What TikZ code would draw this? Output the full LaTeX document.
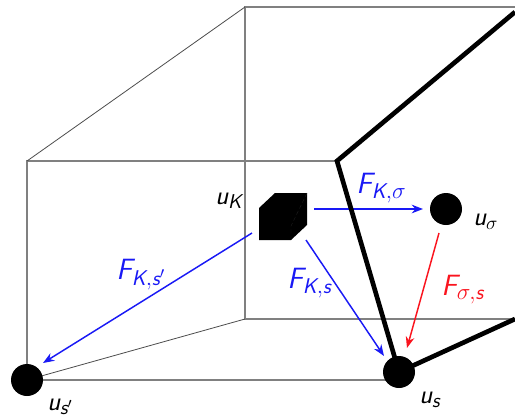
\documentclass[tikz,border=0pt]{standalone}
\usepackage{amsmath}
\usetikzlibrary{arrows.meta}
\definecolor{fluxblue}{RGB}{25,25,245}
\definecolor{fluxred}{RGB}{250,20,30}
\DeclareMathSizes{22}{22}{16}{12}
\DeclareMathSizes{20}{20}{15}{11}
\newcommand{\sv}[1]{\text{\sffamily\slshape #1}}
\tikzset{
  wire/.style={draw=black!50,line width=0.9pt},
  thinwire/.style={draw=black!70,line width=0.6pt},
  wall/.style={draw=black,line width=3.5pt,line join=miter},
  dot/.style={circle,fill=black,inner sep=0pt,minimum size=24pt},
  flux/.style={line width=1.1pt,-{Stealth[length=8.5pt,width=6.5pt]}},
  lab/.style={anchor=base west,inner sep=0pt,font=\fontsize{22}{24}\selectfont},
  vlab/.style={anchor=base west,inner sep=0pt,font=\fontsize{20}{24}\selectfont},
}
\begin{document}
\begin{tikzpicture}[x=0.75pt,y=-0.75pt]
\useasboundingbox (0,0) rectangle (515,419);
\coordinate (fa) at (27,161);
\coordinate (fb) at (27,380);
\coordinate (fc) at (399,380);
\coordinate (fd) at (337,161);
\coordinate (ba) at (245,7);
\coordinate (bb) at (245,319);
\coordinate (be) at (515,7);
\coordinate (bf) at (515,319);
\coordinate (wa) at (515,12);
\coordinate (wb) at (515,319);
\draw[wire] (fb) -- (fa) -- (fd);
\draw[wire] (fb) -- (fc);
\draw[wire] (be) -- (ba) -- (bb) -- (bf);
\draw[thinwire] (fa) -- (ba);
\draw[thinwire] (fb) -- (bb);
\coordinate (k1) at (314,209);
\coordinate (k2) at (423,209);
\coordinate (k3) at (306,240);
\coordinate (k4) at (384,356);
\coordinate (k5) at (252,233);
\coordinate (k6) at (43,363);
\coordinate (r1) at (439,233);
\coordinate (r2) at (407,348);
\draw[flux,fluxblue] (k1) -- (k2);
\draw[flux,fluxblue] (k3) -- (k4);
\draw[flux,fluxblue] (k5) -- (k6);
\draw[flux,fluxred] (r1) -- (r2);
\node[dot] (s) at (399,372) {};
\node[dot] (sp) at (27,380) {};
\node[dot] (sig) at (446,209) {};
\draw[wall] (wa) -- (fd) -- (s.center) -- (wb);
\fill[black] (259,208) -- (275,193) -- (307,193) -- (307,225) -- (291,240) -- (259,240) -- cycle;
\draw[black!88,line width=0.3pt,densely dashed] (307,193) -- (291,226) -- (291,240);
\node[lab,fluxblue] (fks) at (356,193) {$\sv{F}_{\sv{K},\sigma}$};
\node[lab,fluxblue] (fksp) at (116,279) {$\sv{F}_{\sv{K},\sv{s}'}$};
\node[lab,fluxblue] (fkss) at (287,288) {$\sv{F}_{\sv{K},\sv{s}}$};
\node[lab,fluxred] (fss) at (441,295) {$\sv{F}_{\sigma,\sv{s}}$};
\node[vlab] (uk) at (215,204) {$\sv{u}_{\sv{K}}$};
\node[vlab] (us) at (473,225) {$\sv{u}_\sigma$};
\node[vlab] (uss) at (419,403) {$\sv{u}_{\sv{s}}$};
\node[vlab] (usp) at (47,410) {$\sv{u}_{\sv{s}'}$};
\end{tikzpicture}
\end{document}
